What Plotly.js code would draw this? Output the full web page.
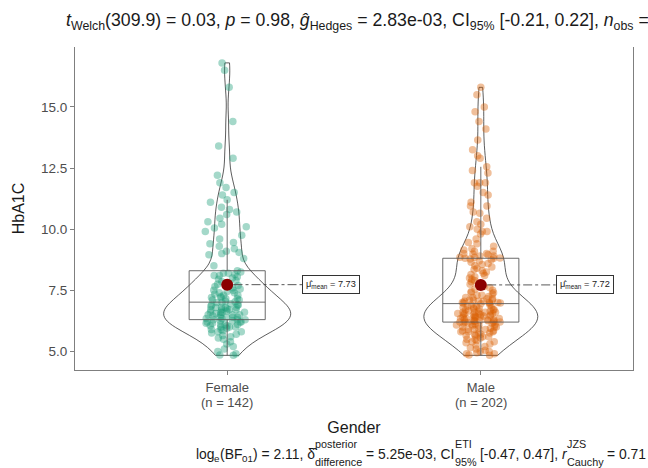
<!DOCTYPE html>
<html><head><meta charset="utf-8">
<script src="https://cdn.plot.ly/plotly-3.0.1.min.js"></script>
<style>html,body{margin:0;padding:0;background:#fff;overflow:hidden}#chart{width:648px;height:468px}</style>
</head><body><div id="chart"></div>
<script>
// ---------------- data ----------------
const categories = ['Female', 'Male'];
const femaleHbA1C = [
16.8,16.5,15.8,14.4,13.4,12.9,12.2,11.9,11.7,11.5,11.4,
11.2,11.1,10.9,10.8,10.7,10.6,10.45,10.3,10.2,10.1,10.05,
9.9,9.75,9.6,9.45,9.4,9.3,9.2,9.1,9.05,9.0,8.95,
8.8,8.5,8.3,
8.25,8.2,8.2,8.15,8.1,8.1,8.05,8.0,7.95,7.9,7.85,7.8,7.8,7.75,7.7,7.65,7.6,7.55,7.5,7.5,7.45,7.4,7.4,7.35,7.3,7.3,7.25,7.2,7.2,7.15,7.15,7.1,7.1,7.05,7.03,
7.0,7.0,6.95,6.9,6.9,6.9,6.85,6.8,6.8,6.8,6.8,6.75,6.7,6.7,6.7,6.7,6.65,6.6,6.6,6.6,6.6,6.55,6.5,6.5,6.5,6.5,6.45,6.4,6.4,6.4,6.4,6.35,6.35,6.3,6.3,6.3,
6.25,6.25,6.2,6.2,6.2,6.15,6.15,6.1,6.1,6.1,6.05,6.05,6.0,6.0,6.0,5.95,5.9,5.9,5.85,5.8,5.8,5.75,5.7,5.65,5.6,5.55,5.5,5.4,5.3,5.2,5.1,5.0,4.9,4.85,4.84
];
const maleHbA1C = [
15.8,15.5,15.0,14.8,14.4,14.1,13.65,13.25,13.0,12.9,
12.55,12.4,12.3,11.9,11.9,11.9,11.75,11.5,11.4,11.1,10.95,10.95,10.7,10.65,10.45,10.3,10.2,10.1,10.0,
9.9,9.9,9.8,9.6,9.45,9.4,9.3,9.2,9.15,9.1,9.1,9.0,
9.0,8.98,8.95,8.9,8.9,8.85,8.85,8.82,8.81,8.81,
8.78,8.75,8.7,8.65,8.6,8.55,8.5,8.45,8.4,8.35,8.3,8.25,8.2,8.15,8.1,8.05,8.0,7.95,7.9,7.85,7.8,7.75,7.7,7.65,7.6,7.55,7.5,7.45,7.4,7.4,7.35,7.3,7.3,7.25,7.2,7.2,7.15,7.15,7.1,7.1,7.1,7.05,7.05,7.05,7.0,7.0,7.0,6.98,6.97,6.96,
6.95,6.9,6.9,6.85,6.85,6.8,6.8,6.8,6.75,6.75,6.7,6.7,6.7,6.65,6.65,6.65,6.6,6.6,6.6,6.6,6.55,6.55,6.55,6.55,6.5,6.5,6.5,6.5,6.45,6.45,6.45,6.4,6.4,6.4,6.4,6.35,6.35,6.35,6.3,6.3,6.3,6.3,6.25,6.25,6.25,6.25,6.22,6.2,6.2,6.2,6.2,
6.18,6.15,6.15,6.12,6.1,6.1,6.08,6.05,6.05,6.0,6.0,6.0,5.95,5.95,5.9,5.9,5.9,5.85,5.85,5.8,5.8,5.8,5.75,5.75,5.7,5.7,5.65,5.65,5.6,5.6,5.55,5.5,5.5,5.45,5.4,5.4,5.35,5.3,5.25,5.2,5.15,5.1,5.05,5.0,5.0,4.95,4.9,4.9,4.85,4.84
];
const meanValues = [7.73, 7.72];
const yTickValues = [5, 7.5, 10, 12.5, 15];
const yTickLabels = ['5.0', '7.5', '10.0', '12.5', '15.0'];
const groupColors = ['#1B9E77', '#D95F02'];
const titleText = '<i>t</i><sub>Welch</sub>(309.9) = 0.03, <i>p</i> = 0.98, <i>ĝ</i><sub>Hedges</sub> = 2.83e-03, CI<sub>95%</sub> [-0.21, 0.22], <i>n</i><sub>obs</sub> =';
const captionPieces = [
  {text: 'log'}, {text: 'e', sub: true}, {text: '(BF'}, {text: '01', sub: true},
  {text: ') = 2.11, δ\u0302'}, {sup: 'posterior', sub: 'difference'},
  {text: ' = 5.25e-03, CI'}, {sup: 'ETI', sub: '95%'},
  {text: ' [-0.47, 0.47], '}, {text: 'r', italic: true}, {sup: 'JZS', sub: 'Cauchy'},
  {text: ' = 0.71'}
];

// ---------------- helpers ----------------
const FONT = '"Liberation Sans", Arial, sans-serif';
const W = 648, H = 468, ML = 75, MR = 15, MT = 47, MB = 98;
const PW = W - ML - MR, PH = H - MT - MB;
const pxX = px => (px - ML) / PW;
const pxY = py => (H - MB - py) / PH;
const srt = a => a.slice().sort((x, y) => x - y);
function q7(a, p) { const s = srt(a); const h = (s.length - 1) * p; const lo = Math.floor(h); const hi = Math.min(lo + 1, s.length - 1); return s[lo] + (h - lo) * (s[hi] - s[lo]); }
const mean = a => a.reduce((s, v) => s + v, 0) / a.length;
function sd(a) { const m = mean(a); return Math.sqrt(a.reduce((s, v) => s + (v - m) * (v - m), 0) / (a.length - 1)); }
function bwNrd0(a) { const iqr = q7(a, .75) - q7(a, .25); return 0.9 * Math.min(sd(a), iqr / 1.34) * Math.pow(a.length, -0.2); }
function maxKde(a, h) {
  const mn = Math.min(...a), mx = Math.max(...a); let best = 0;
  for (let k = 0; k < 512; k++) {
    const x = mn + (mx - mn) * k / 511; let s = 0;
    for (const v of a) { const z = (x - v) / h; s += Math.exp(-0.5 * z * z); }
    s /= a.length * h * Math.sqrt(2 * Math.PI); if (s > best) best = s;
  }
  return best;
}

const groups = [femaleHbA1C, maleHbA1C];
const bws = groups.map(bwNrd0);
const kmax = groups.map((g, i) => maxKde(g, bws[i]));
const kAll = Math.max(...kmax);
const violinWidths = kmax.map(k => 0.5 * k / kAll);

const traces = [];
groups.forEach((vals, i) => {
  traces.push({type: 'violin', x: vals.map(() => categories[i]), y: vals, bandwidth: bws[i],
    spanmode: 'hard', scalemode: 'width', width: violinWidths[i], points: false,
    box: {visible: false}, meanline: {visible: false},
    line: {color: '#333333', width: 0.8}, fillcolor: 'rgba(0,0,0,0)', hoverinfo: 'skip', showlegend: false});
});
// jittered raw points: one points-only box trace per quartile band so the jitter spreads evenly
groups.forEach((vals, i) => {
  const q1 = q7(vals, .25), q3 = q7(vals, .75);
  const bands = [vals.filter(v => v < q1), vals.filter(v => v >= q1 && v <= q3), vals.filter(v => v > q3)];
  bands.forEach(b => {
    traces.push({type: 'box', x: b.map(() => categories[i]), y: b, width: 0.3,
      boxpoints: 'all', jitter: 0.65, pointpos: 0, whiskerwidth: 0,
      line: {width: 0, color: 'rgba(0,0,0,0)'}, fillcolor: 'rgba(0,0,0,0)',
      marker: {color: groupColors[i], opacity: 0.4, size: 7.5, line: {width: 0}}, showlegend: false});
  });
});
groups.forEach((vals, i) => {
  traces.push({type: 'box', x: vals.map(() => categories[i]), y: vals, width: 0.3,
    boxpoints: 'outliers', marker: {opacity: 0, size: 1}, whiskerwidth: 0,
    line: {color: '#595959', width: 0.9}, fillcolor: 'rgba(0,0,0,0)', showlegend: false, hoverinfo: 'skip'});
});
traces.push({type: 'scatter', mode: 'markers', x: categories, y: meanValues,
  marker: {color: '#8B0000', size: 12}, showlegend: false});

const shapes = [], annotations = [];
meanValues.forEach((m, i) => {
  shapes.push({type: 'line', xref: 'x', yref: 'y', x0: i + 0.025, x1: i + 0.295, y0: m, y1: m,
    line: {color: '#444', width: 0.9, dash: 'dashdot'}});
  annotations.push({xref: 'x', yref: 'y', x: i + 0.295, y: m, xanchor: 'left', yanchor: 'middle',
    showarrow: false, text: 'μ\u0302<sub>mean</sub> = ' + m.toFixed(2),
    font: {family: FONT, size: 9.2, color: '#1a1a1a'}, bgcolor: '#fff', bordercolor: '#333', borderwidth: 1, borderpad: 3});
});
// second line of the x tick labels: group sizes computed from the data
categories.forEach((c, i) => {
  annotations.push({xref: 'x', yref: 'paper', x: i, y: pxY(402.5), xanchor: 'center', yanchor: 'middle', showarrow: false,
    borderpad: 0, text: '(n = ' + groups[i].length + ')', font: {family: FONT, size: 13, color: '#4d4d4d'}});
});

// caption built from measured pieces (stacked super/subscripts)
const ctx = document.createElement('canvas').getContext('2d');
function tw(t, size, italic) { ctx.font = (italic ? 'italic ' : '') + size + 'px "Liberation Sans"'; return ctx.measureText(t).width; }
const capSize = 13.9, capSmall = 10.8, capSubSmall = 9.8, capBase = 459, capRight = 645;
const items = []; let cx = 0;
captionPieces.forEach(p => {
  if (p.text !== undefined && !p.sub) {
    const lead = tw(p.text.match(/^\s*/)[0], capSize, p.italic);
    items.push({t: p.text.trim(), x: cx + lead, size: capSize, base: capBase, italic: p.italic});
    cx += tw(p.text, capSize, p.italic);
  } else if (p.text !== undefined && p.sub) {
    items.push({t: p.text, x: cx, size: capSubSmall, base: capBase + 3});
    cx += tw(p.text, capSubSmall);
  } else {
    items.push({t: p.sup, x: cx, size: capSmall, base: capBase - 11});
    items.push({t: p.sub, x: cx, size: capSmall, base: capBase + 6.5});
    cx += Math.max(tw(p.sup, capSmall), tw(p.sub, capSmall));
  }
});
const capStart = capRight - cx;
items.forEach(it => {
  annotations.push({xref: 'paper', yref: 'paper', x: pxX(capStart + it.x), y: pxY(it.base - 0.35 * it.size),
    xanchor: 'left', yanchor: 'middle', showarrow: false, borderpad: 0,
    text: it.italic ? '<i>' + it.t + '</i>' : it.t, font: {family: FONT, size: it.size, color: '#1a1a1a'}});
});

const axisGray = '#7f7f7f';
const layout = {
  width: W, height: H, margin: {l: ML, r: MR, t: MT, b: MB},
  paper_bgcolor: '#fff', plot_bgcolor: '#fff',
  font: {family: FONT, color: '#1a1a1a'},
  boxmode: 'overlay', violinmode: 'overlay', showlegend: false,
  title: {text: titleText, xref: 'container', x: 66 / W, xanchor: 'left', yref: 'container', y: 1 - 20 / H, yanchor: 'middle',
    font: {family: FONT, size: 17.7, color: '#1a1a1a'}},
  xaxis: {type: 'category', categoryorder: 'array', categoryarray: categories, range: [-0.6, 1.6],
    tickmode: 'array', tickvals: categories, ticktext: categories, ticklabelstandoff: 1,
    showline: true, linecolor: axisGray, linewidth: 1, ticks: 'outside', ticklen: 4, tickcolor: axisGray,
    showgrid: false, zeroline: false, tickfont: {family: FONT, size: 13, color: '#4d4d4d'},
    title: {text: 'Gender', font: {family: FONT, size: 16, color: '#1a1a1a'}, standoff: 28}},
  yaxis: {range: [4.24, 17.45], tickmode: 'array', tickvals: yTickValues, ticktext: yTickLabels,
    showline: true, mirror: true, linecolor: axisGray, linewidth: 1, ticks: 'outside', ticklen: 4, tickcolor: axisGray,
    showgrid: false, zeroline: false, tickfont: {family: FONT, size: 13.5, color: '#4d4d4d'},
    title: {text: 'HbA1C', font: {family: FONT, size: 16, color: '#1a1a1a'}, standoff: 12}},
  shapes: shapes, annotations: annotations
};
Plotly.newPlot('chart', traces, layout, {displayModeBar: false, staticPlot: true});
</script></body></html>
